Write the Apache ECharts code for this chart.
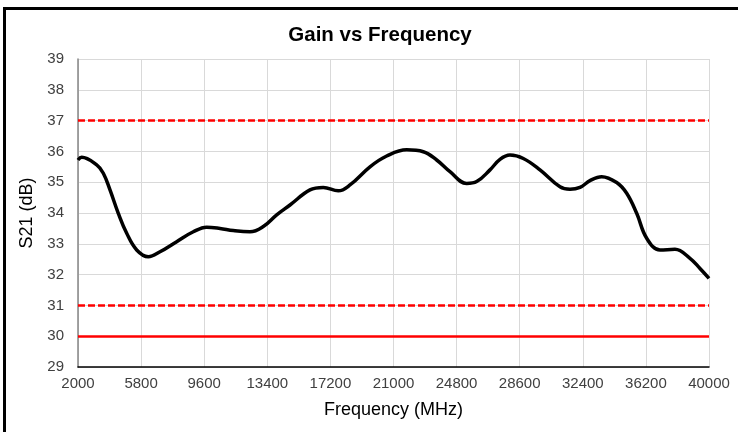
<!DOCTYPE html>
<html>
<head>
<meta charset="utf-8">
<script src="https://cdn.jsdelivr.net/npm/echarts@6/dist/echarts.min.js"></script>
<style>
html,body{margin:0;padding:0;background:#fff;}
#chart{width:738px;height:432px;position:absolute;left:0;top:0;}
#frame{position:absolute;left:3px;top:7px;width:800px;height:500px;border-top:3px solid #000;border-left:3px solid #000;pointer-events:none;}
</style>
</head>
<body>
<div id="chart"></div>
<div id="frame"></div>
<script>
var freqMHz = [2000,2223,3126,3524,3927,4427,4933,5535,6233,6938,7944,8943,9750,10551,11352,12358,13159,13966,14767,15971,16772,17675,18380,19584,20590,21794,22794,23601,24402,25407,26010,26811,27413,28015,28816,29821,31026,31628,32230,32832,33537,34440,35043,35645,36247,37048,37951,38855,39457,40000];
var s21dB = [35.72,35.81,35.56,35.29,34.75,33.99,33.34,32.80,32.58,32.74,33.07,33.39,33.54,33.50,33.43,33.39,33.56,33.94,34.26,34.75,34.83,34.72,34.91,35.50,35.85,36.05,35.99,35.72,35.34,34.96,35.02,35.40,35.74,35.88,35.77,35.40,34.85,34.77,34.83,35.05,35.18,34.99,34.64,33.99,33.18,32.80,32.82,32.53,32.20,31.88];
var upperLimit = 37, lowerLimit = 31, minGain = 30;
var xStart = 2000, xEnd = 40000, xStep = 3800;
var yMin = 29, yMax = 39;

var chart = echarts.init(document.getElementById('chart'));
var font = 'Liberation Sans, Arial, sans-serif';
var seriesData = freqMHz.map(function(f,i){return [f - xStart, s21dB[i]];});
chart.setOption({
  animation:false,
  title:{text:'Gain vs Frequency',left:375,top:20,textAlign:'center',textStyle:{fontFamily:font,fontSize:20.5,fontWeight:'bold',color:'#000'}},
  grid:{left:78,right:29,top:59,bottom:65,containLabel:false},
  xAxis:{type:'value',min:0,max:xEnd - xStart,interval:xStep,
    name:'Frequency (MHz)',nameLocation:'middle',nameGap:34,
    nameTextStyle:{fontFamily:font,fontSize:18,color:'#000'},
    axisLine:{show:true,onZero:false,lineStyle:{color:'#000',width:1.5}},
    axisTick:{show:false},
    axisLabel:{fontFamily:font,fontSize:15,color:'#404040',margin:9,formatter:function(v){return String(v + xStart);}},
    splitLine:{show:true,lineStyle:{color:'#d9d9d9',width:1}}},
  yAxis:{type:'value',min:yMin,max:yMax,interval:1,
    name:'S21 (dB)',nameLocation:'middle',nameGap:39,nameRotate:90,
    nameTextStyle:{fontFamily:font,fontSize:18,color:'#000'},
    axisLine:{show:true,lineStyle:{color:'#868686',width:1.5}},
    axisTick:{show:false},
    axisLabel:{fontFamily:font,fontSize:15,color:'#404040',margin:14},
    splitLine:{show:true,lineStyle:{color:'#d9d9d9',width:1}}},
  series:[
    {type:'line',data:seriesData,showSymbol:false,symbol:'none',smooth:0.4,
     lineStyle:{color:'#000',width:3.5},z:5,
     markLine:{silent:true,symbol:'none',label:{show:false},
       data:[
         {yAxis:upperLimit,lineStyle:{color:'#ff0000',width:2.5,type:[7,3]}},
         {yAxis:lowerLimit,lineStyle:{color:'#ff0000',width:2.5,type:[7,3]}},
         {yAxis:minGain,lineStyle:{color:'#ff0000',width:2.5,type:'solid'}}
       ]}}
  ]
});
</script>
</body>
</html>
